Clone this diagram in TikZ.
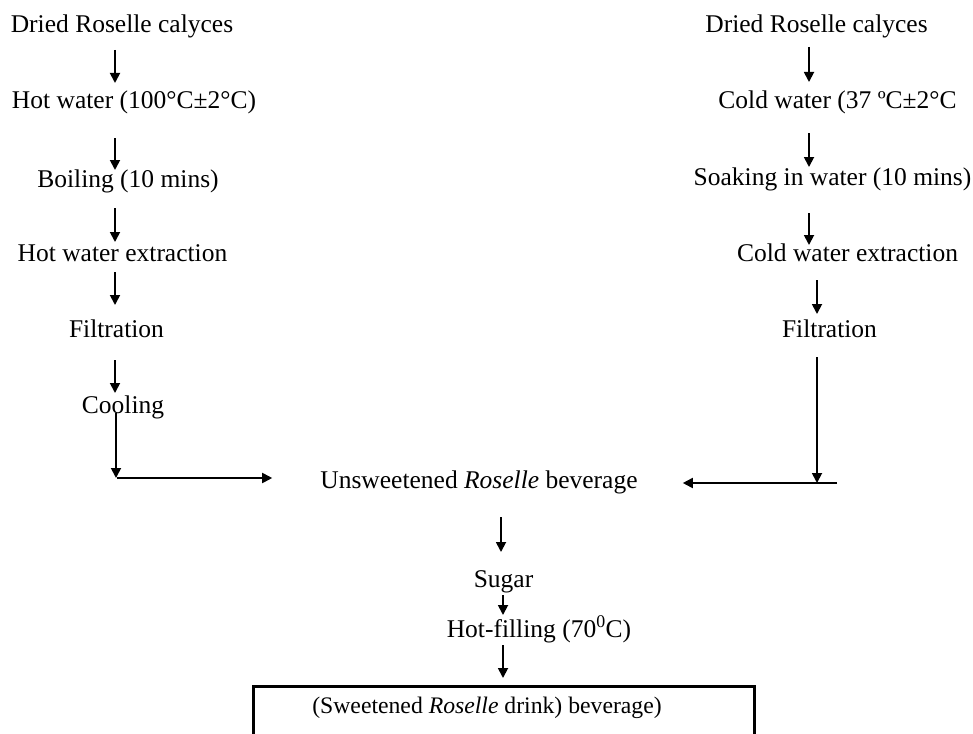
\documentclass[tikz,border=0pt]{standalone}
\usepackage{fontspec}
\setmainfont{Liberation Serif}
\usetikzlibrary{arrows.meta,calc}
\begin{document}
\begin{tikzpicture}[x=1pt,y=-1pt,
  lbl/.style={inner sep=0pt,anchor=base,font=\fontsize{25.5}{30}\selectfont},
  arr/.style={line width=1.8pt,-{Triangle[length=10pt,width=10pt]}},
  plain/.style={line width=1.8pt}]
\useasboundingbox (0,0) rectangle (973,733);
\clip (0,0) rectangle (973,733);
\coordinate (lx) at (115,0);
\coordinate (lx2) at (116,0);
\coordinate (rx) at (809,0);
\coordinate (rx2) at (817,0);
\coordinate (cx) at (501,0);
\coordinate (cx2) at (503,0);
% left column
\node[lbl] (n1) at (122,33) {Dried Roselle calyces};
\node[lbl] (n2) at (134,108) {Hot water (100°C±2°C)};
\node[lbl] (n3) at (128,187) {Boiling (10 mins)};
\node[lbl] (n4) at (122.5,261) {Hot water extraction};
\node[lbl] (n5) at (116.5,337) {Filtration};
\node[lbl] (n6) at (123,413) {Cooling};
% right column
\node[lbl] (m1) at (816.5,33) {Dried Roselle calyces};
\node[lbl] (m2) at (837.5,108) {Cold water (37 ºC±2°C};
\node[lbl] (m3) at (832.5,185) {Soaking in water (10 mins)};
\node[lbl] (m4) at (847.5,261) {Cold water extraction};
\node[lbl] (m5) at (829.5,337) {Filtration};
% centre
\node[lbl] (un) at (479,488) {Unsweetened \textit{Roselle} beverage};
\node[lbl] (su) at (503.5,587) {Sugar};
\node[lbl] (hf) at (539,637) {Hot-filling (70\textsuperscript{0}C)};
\node[draw,line width=3pt,anchor=north west,minimum width=501pt,minimum height=90pt,inner sep=0pt] (box) at (252,685) {};
\node[lbl,font=\fontsize{23.7}{28}\selectfont] (bt) at (487,713) {(Sweetened \textit{Roselle} drink) beverage)};
\coordinate (cornerL) at (116,478);
\coordinate (cornerR) at (817,483);
% left arrows
\draw[arr] ([yshift=-17pt]n1.base -| lx) -- ([yshift=25pt]n2.base -| lx);
\draw[arr] ([yshift=-30pt]n2.base -| lx) -- ([yshift=17pt]n3.base -| lx);
\draw[arr] ([yshift=-21pt]n3.base -| lx) -- ([yshift=19pt]n4.base -| lx);
\draw[arr] ([yshift=-11pt]n4.base -| lx) -- ([yshift=32pt]n5.base -| lx);
\draw[arr] ([yshift=-23pt]n5.base -| lx) -- ([yshift=20pt]n6.base -| lx);
\draw[arr] (n6.base -| lx2) -- (cornerL);
\draw[arr] ([xshift=1pt]cornerL) -- ([xshift=-48pt]un.west |- cornerL);
% right arrows
\draw[arr] ([yshift=-14pt]m1.base -| rx) -- ([yshift=26pt]m2.base -| rx);
\draw[arr] ([yshift=-25pt]m2.base -| rx) -- ([yshift=18pt]m3.base -| rx);
\draw[arr] ([yshift=-28pt]m3.base -| rx) -- ([yshift=16pt]m4.base -| rx);
\draw[arr] ([yshift=-19pt]m4.base -| rx2) -- ([yshift=23pt]m5.base -| rx2);
\draw[arr] ([yshift=-20pt]m5.base -| rx2) -- (cornerR);
\draw[arr] ([xshift=20pt]cornerR) -- ([xshift=45pt]un.east |- cornerR);
% centre arrows
\draw[arr] ([yshift=-29pt]un.base -| cx) -- ([yshift=35pt]su.base -| cx);
\draw[arr] ([yshift=-8pt]su.base -| cx2) -- ([yshift=22pt]hf.base -| cx2);
\draw[arr] ([yshift=-8pt]hf.base -| cx2) -- ([yshift=7pt]box.north -| cx2);
\end{tikzpicture}
\end{document}
